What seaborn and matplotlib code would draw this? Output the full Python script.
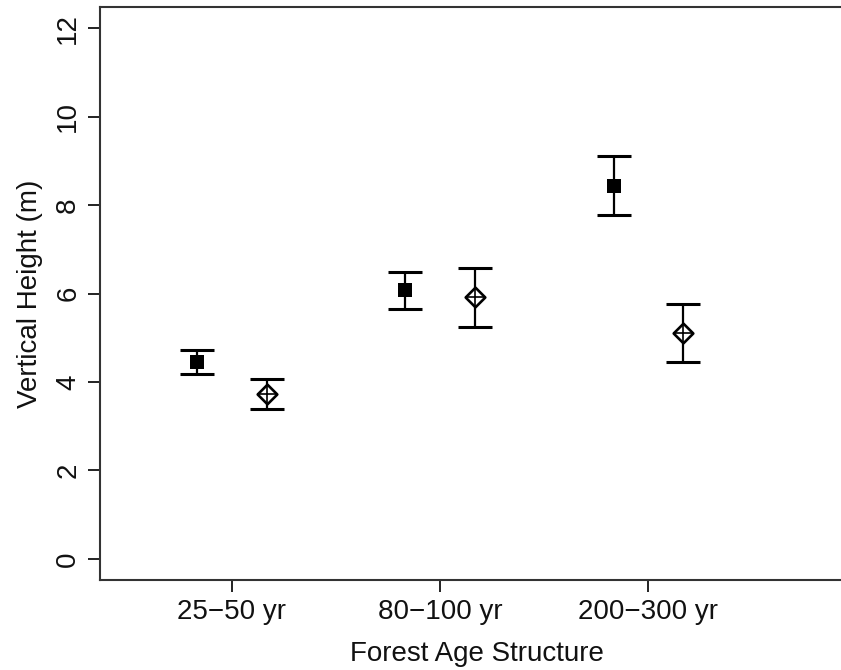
import matplotlib
matplotlib.use("Agg")
import matplotlib.pyplot as plt
import seaborn as sns
import pandas as pd
import numpy as np

categories = ["25\u221250 yr", "80\u2212100 yr", "200\u2212300 yr"]
# series A: filled squares
a_mean = [4.44, 6.07, 8.43]
a_low = [4.17, 5.66, 7.77]
a_high = [4.72, 6.48, 9.10]
# series B: open diamond with plus
b_mean = [3.73, 5.91, 5.10]
b_low = [3.38, 5.24, 4.44]
b_high = [4.06, 6.58, 5.76]

offset = 1.0 / 6.0
yticks = [0, 2, 4, 6, 8, 10, 12]

sns.set_theme(style="ticks")
plt.rcParams["font.family"] = ["Liberation Sans", "DejaVu Sans"]

fig = plt.figure(figsize=(8.41, 6.70), dpi=100)
ax = fig.add_axes([100 / 841, 90 / 670, 753 / 841, 573 / 670])

pos = np.arange(1, len(categories) + 1)
df = pd.DataFrame({
    "x": np.concatenate([pos - offset, pos + offset]),
    "y": a_mean + b_mean,
    "lo": a_low + b_low,
    "hi": a_high + b_high,
    "grp": ["A"] * 3 + ["B"] * 3,
})

for g, sub in df.groupby("grp"):
    ax.errorbar(sub["x"], sub["y"],
                yerr=[sub["y"] - sub["lo"], sub["hi"] - sub["y"]],
                fmt="none", ecolor="black", elinewidth=1.6,
                capsize=12.2, capthick=2.2, zorder=2)

sa = df[df.grp == "A"]
sb = df[df.grp == "B"]
sns.scatterplot(data=sa, x="x", y="y", marker="s", s=100, color="black",
                edgecolor="black", linewidth=0, ax=ax, zorder=3, legend=False)
sns.scatterplot(data=sb, x="x", y="y", marker="D", s=100, color="white",
                edgecolor="black", linewidth=1.9, ax=ax, zorder=3, legend=False)
sns.scatterplot(data=sb, x="x", y="y", marker="+", s=200, color="black",
                linewidth=1.2, ax=ax, zorder=4, legend=False)

ax.set_xlim(0.366, 3.984)
ax.set_ylim(-0.48, 12.48)
ax.set_xticks(pos)
ax.set_xticklabels(categories)
ax.set_yticks(yticks)
ax.set_yticklabels([str(v) for v in yticks], rotation=90, va="center")

ax.set_xlabel("Forest Age Structure", fontsize=20, color="#111111", labelpad=12)
ax.set_ylabel("Vertical Height (m)", fontsize=20, color="#111111", labelpad=9)

ax.tick_params(axis="both", labelsize=20, length=8.5, width=1.4,
               colors="#222222", labelcolor="#111111", pad=5)
for side in ["left", "bottom", "top", "right"]:
    ax.spines[side].set_visible(True)
    ax.spines[side].set_linewidth(1.5)
    ax.spines[side].set_color("#333333")

fig.savefig("out.png", dpi=100)
